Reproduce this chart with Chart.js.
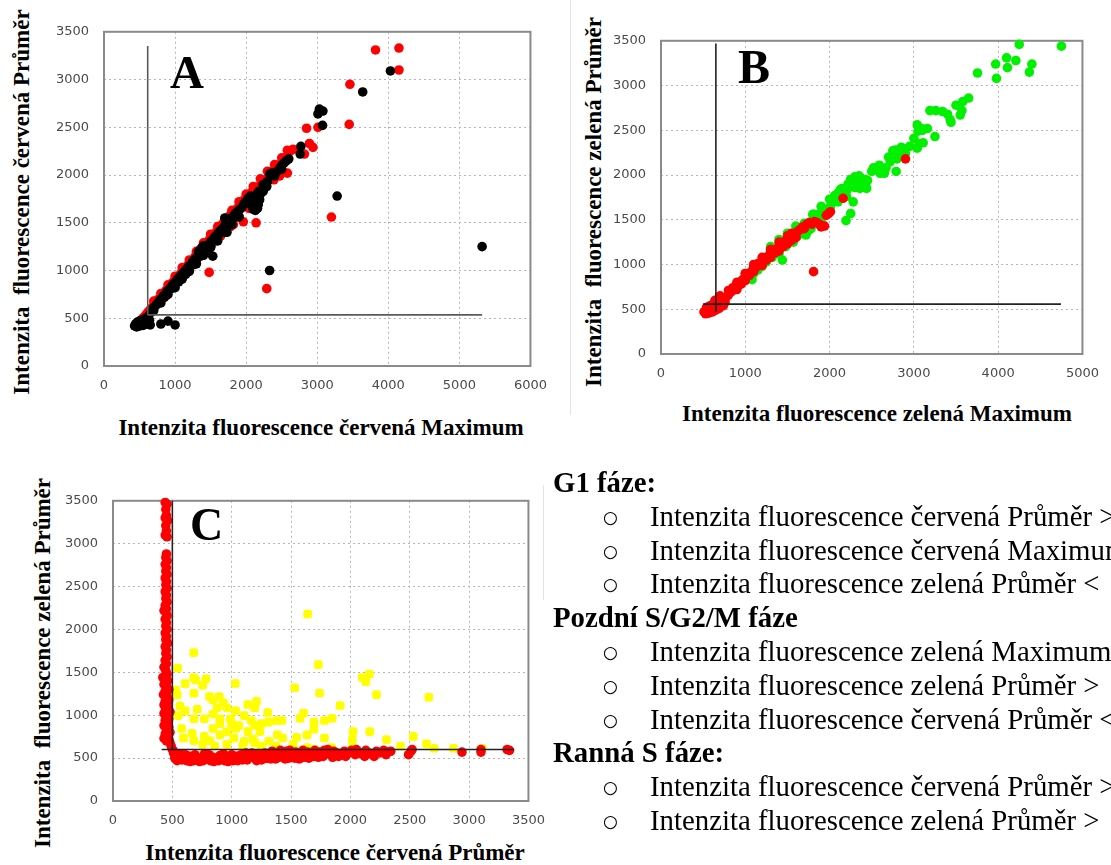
<!DOCTYPE html>
<html>
<head>
<meta charset="utf-8">
<script src="https://cdn.jsdelivr.net/npm/chart.js@4.4.1/dist/chart.umd.min.js"></script>
<style>
  html, body { margin:0; padding:0; background:#fff; }
  body { width:1111px; height:865px; overflow:hidden; position:relative; font-family:"Liberation Serif","Times New Roman",serif; color:#000; }
  canvas { position:absolute; }
  .title { position:absolute; white-space:nowrap; font-weight:bold; font-size:23px; line-height:1; }
  .ytitle { transform:translate(-50%,-50%) rotate(-90deg); }
  .xtitle { transform:translate(-50%,-50%); }
  .letter { position:absolute; font-weight:bold; line-height:1; }
  .rule { position:absolute; width:1px; background:#e4e4e4; }
  #notes { position:absolute; left:553px; top:466px; font-size:28.8px; line-height:33.8px; white-space:nowrap; }
  #notes .h { font-weight:bold; }
  #notes .b { position:relative; padding-left:97px; }
  #notes .b span { position:absolute; left:50px; top:1px; font-family:"DejaVu Sans",sans-serif; font-size:17px; }
</style>
</head>
<body>

<div class="rule" style="left:570px;top:0;height:415px;"></div>
<div class="rule" style="left:543px;top:485px;height:115px;"></div>

<canvas id="chartA" width="505" height="387" style="left:54px;top:9px;"></canvas>
<canvas id="chartB" width="500" height="366" style="left:611px;top:18px;"></canvas>
<canvas id="chartC" width="494" height="353" style="left:63px;top:478px;"></canvas>

<div class="title ytitle" style="left:21px;top:202px;">Intenzita&nbsp; fluorescence červená Průměr</div>
<div class="title xtitle" style="left:321px;top:427px;">Intenzita fluorescence červená Maximum</div>
<div class="title ytitle" style="left:593px;top:202px;">Intenzita&nbsp; fluorescence zelená Průměr</div>
<div class="title xtitle" style="left:877px;top:413px;">Intenzita fluorescence zelená Maximum</div>
<div class="title ytitle" style="left:42px;top:663px;">Intenzita&nbsp; fluorescence zelená Průměr</div>
<div class="title xtitle" style="left:335px;top:852px;">Intenzita fluorescence červená Průměr</div>

<div class="letter" style="left:170px;top:49px;font-size:47px;">A</div>
<div class="letter" style="left:738px;top:43px;font-size:48px;">B</div>
<div class="letter" style="left:190px;top:502px;font-size:46px;">C</div>

<div id="notes">
  <div class="h">G1 fáze:</div>
  <div class="b"><span>○</span>Intenzita fluorescence červená Průměr &gt;</div>
  <div class="b"><span>○</span>Intenzita fluorescence červená Maximum</div>
  <div class="b"><span>○</span>Intenzita fluorescence zelená Průměr &lt;</div>
  <div class="h">Pozdní S/G2/M fáze</div>
  <div class="b"><span>○</span>Intenzita fluorescence zelená Maximum</div>
  <div class="b"><span>○</span>Intenzita fluorescence zelená Průměr &gt;</div>
  <div class="b"><span>○</span>Intenzita fluorescence červená Průměr &lt;</div>
  <div class="h">Ranná S fáze:</div>
  <div class="b"><span>○</span>Intenzita fluorescence červená Průměr &gt;</div>
  <div class="b"><span>○</span>Intenzita fluorescence zelená Průměr &gt;</div>
</div>

<script>
// ---- Panel A: red channel, maximum (x) vs mean (y) ----
const aRed = [
  [460,440],[490,455],[520,480],[545,500],[570,520],[600,545],[625,570],[650,590],[675,610],[700,640],
  [725,660],[750,690],[770,700],[800,720],[820,745],[845,760],[870,790],[890,800],[915,830],[940,850],
  [960,870],[985,890],[1010,905],[1035,930],[1060,950],[1085,975],[1110,990],[1135,1015],[1160,1040],[1185,1060],
  [1210,1075],[1235,1100],[1260,1120],[1285,1150],[1310,1180],[1340,1210],[1365,1230],[1390,1250],[1420,1270],[1450,1290],
  [1480,1320],[1510,1350],[1545,1380],[1575,1400],[1610,1430],[1645,1470],[1680,1500],[1715,1520],[1750,1560],[1785,1590],
  [1820,1610],[1860,1640],[1900,1680],[1935,1700],[1970,1740],[2010,1770],[2050,1800],[2090,1830],[2130,1860],[2175,1880],
  [2220,1910],[2270,1950],[2320,1990],[2370,2040],[2420,2080],[2470,2110],[2520,2150],[2570,2190],[2620,2250],[2660,2270],
  [700,680],[800,760],[900,850],[1000,940],[1100,1030],[1200,1110],[1300,1200],[1400,1290],[1500,1380],[1600,1460],
  [1700,1540],[1800,1630],[1900,1720],[2000,1800],[2100,1880],[2200,1960],[2300,2040],[2400,2110],[2500,2180],[2580,2260],
  [780,660],[880,740],[990,840],[1100,930],[1200,1020],[1300,1100],[1420,1190],[1530,1290],[1640,1360],[1780,1460],
  [1820,1480],[1900,1570],[2040,1650],[2150,1700],[2280,1900],[2390,1950],[2470,1990],[2580,2020],
  [1480,980],[1960,1510],[2140,1500],[2290,810],[2820,2220],[2850,2490],[2890,2330],[2940,2290],[3010,2500],
  [3200,1560],[3450,2530],[3460,2950],[3820,3310],[4150,3330],[4150,3100]
];
const aBlack = [
  [430,420],[445,440],[460,410],[475,430],[490,445],[505,420],[520,435],[535,455],[550,425],[565,445],
  [580,465],[595,440],[610,455],[470,460],[500,470],[540,480],[580,500],[620,520],[650,430],[640,480],
  [660,560],[690,600],[710,620],[735,640],[760,660],[785,690],[810,700],[835,735],[860,750],[885,780],
  [905,790],[930,815],[955,840],[980,860],[1000,870],[1025,900],[1050,920],[1075,940],[1100,960],[1120,980],
  [1145,1000],[1170,1020],[1195,1045],[1220,1060],[1245,1090],[1270,1110],[1295,1130],[1320,1150],[1345,1180],[1370,1200],
  [1395,1220],[1420,1230],[1445,1250],[1470,1270],[1500,1300],[1530,1320],[1555,1350],[1585,1370],[1615,1400],[1640,1420],
  [1670,1440],[1700,1470],[1730,1500],[1760,1520],[1790,1550],[1820,1570],[1850,1600],[1880,1620],[1910,1640],[1940,1660],
  [1970,1700],[2000,1720],
  [700,580],[800,660],[900,750],[1000,820],[1100,910],[1200,990],[1300,1070],[1400,1160],[1500,1240],[1600,1310],
  [1700,1400],[1800,1480],[1900,1560],[2240,1830],[2400,1990],[2500,2060],
  [1400,1260],[1380,1240],[1330,1200],[1360,1150],[1420,1200],[1500,1250],[1250,1060],[1150,960],[1050,880],[950,810],
  [850,720],[1600,1350],[1700,1550],[1730,1400],[1780,1480],[1850,1560],[1530,1150],
  [2030,1760],[2060,1780],[2090,1770],[2120,1750],[2150,1720],[2170,1690],[2160,1650],[2130,1630],[2100,1640],[2080,1680],
  [2050,1700],[2190,1740],[2200,1800],[2180,1830],[2150,1800],
  [2240,1900],[2290,1880],[2300,1930],[2330,2010],[2360,2020],[2400,2020],[2440,2040],[2480,2080],[2510,2110],[2540,2130],
  [2570,2150],[2600,2170],
  [2760,2220],[2770,2300],[3010,2640],[3030,2690],[3080,2670],[3075,2520],[3640,2870],[4030,3090],[3280,1780],[2330,1000],
  [5320,1250],[800,440],[900,470],[1000,430]
];
const aGateV = [[615,535],[615,3350]];
const aGateH = [[615,535],[5320,535]];

// ---- Panel B: green channel, maximum (x) vs mean (y) ----
const bGreen = [
  [1000,900],[1050,860],[1080,830],[1100,900],[1120,950],[1150,940],[1180,1000],[1200,980],[1220,1040],[1250,1030],
  [1260,1080],[1280,1090],[1300,1120],[1320,1080],[1350,1150],[1380,1130],[1380,1180],[1400,1120],[1420,1220],[1440,1050],
  [1460,1250],[1480,1200],[1500,1300],[1520,1270],[1550,1330],[1570,1250],[1600,1380],[1620,1320],[1650,1400],[1680,1350],
  [1700,1420],[1720,1330],[1750,1450],[1780,1400],[1800,1500],[1820,1560],[1850,1530],[1870,1470],[1900,1580],[1920,1600],
  [1950,1560],[1980,1620],[2010,1650],[2040,1700],[2060,1770],[2080,1750],[2100,1800],[2130,1840],[2150,1790],[2180,1850],
  [2200,1820],[2220,1900],[2240,1870],[2260,1950],[2280,1920],[2300,1980],[2320,1900],[2340,1960],[2360,1850],[2380,1960],
  [2400,1930],[2430,1900],[2450,1940],[2250,1570],[2195,1490],[2280,1700],[2300,1860],[2420,1950],[2440,1850],[2500,2040],
  [2520,2080],[2550,2060],[2590,2110],[2600,2020],[2650,2020],[2670,2080],[2700,2200],[2720,2150],[2750,2270],[2780,2280],
  [2790,2040],[2800,2180],[2830,2240],[2850,2310],[2870,2300],[2900,2240],[2950,2320],[3000,2410],[3040,2560],[3050,2490],
  [3060,2350],[3090,2520],[3110,2360],[3040,2300],[3100,2500],[3160,2520],[3190,2720],[3250,2430],[3260,2720],[3340,2710],
  [3400,2680],[3430,2620],[3440,2590],[3500,2780],[3550,2670],[3570,2720],[3580,2820],[3650,2860],[3755,3140],[3970,3240],
  [3980,3080],[4100,3310],[4110,3200],[4210,3280],[4250,3460],[4370,3150],[4400,3240],[4750,3440],
  [1300,1200],[1400,1280],[1500,1350],[1600,1430],[1700,1460],[1800,1560],[1900,1650],[2000,1730],[2000,1600],[2100,1700],
  [1900,1480],[1750,1380],[2150,1850],[2250,1950],[2350,1990],[2200,1760]
];
const bRed = [
  [510,470],[530,450],[550,480],[570,460],[590,500],[610,470],[630,520],[650,490],[670,530],[690,510],
  [700,550],[720,560],[740,540],[760,580],[540,520],[580,540],[620,560],[660,580],[560,460],[600,480],
  [640,600],[700,600],
  [780,640],[800,660],[820,690],[840,700],[860,720],[880,740],[900,760],[920,780],[940,800],[960,820],
  [980,840],[1000,860],[1020,880],[1040,900],[1060,910],[1080,930],[1100,950],[1120,960],[1140,980],[1160,990],
  [1180,1010],[1200,1030],[1220,1050],[1240,1070],[1260,1080],[1280,1100],[1300,1110],[1320,1130],[1340,1150],[1360,1160],
  [1380,1180],[1400,1190],[1420,1200],[1440,1230],[1460,1250],[1480,1260],[1500,1280],[1530,1300],[1560,1330],[1590,1350],
  [1620,1370],[1650,1390],
  [700,650],[800,710],[900,800],[1000,900],[1100,1000],[1200,1080],[1300,1170],[1400,1250],[1500,1320],[1550,1350],
  [900,740],[1000,820],[1100,920],[1200,990],[1300,1080],[1400,1170],[1500,1240],
  [850,740],[950,780],[1050,880],[1150,1010],[1250,1050],[1350,1130],[1450,1200],[1550,1270],[1600,1330],[1100,980],
  [1200,1000],[1300,1150],[1400,1150],[1500,1230],[900,720],[1000,840],[1600,1300],
  [1680,1420],[1700,1400],[1730,1450],[1760,1470],[1790,1450],[1820,1480],[1850,1470],[1880,1450],[1900,1420],[1940,1430],
  [1960,1550],[1990,1570],[2010,1590],[2160,1740],[2900,2180],[1810,920]
];
const bGateV = [[651,470],[651,3470]];
const bGateH = [[500,557],[4745,557]];

// ---- Panel C: red mean (x) vs green mean (y) ----
const cYellow = [
  [1640,2180],[680,1730],[545,1550],[1730,1590],[2100,1440],[2160,1480],[2130,1390],[2220,1240],[2660,1210],[1740,1260],
  [1530,1320],[1030,1370],[680,1440],[696,1412],[784,1424],[608,1368],[528,1293],[540,1237],[681,1256],[755,1349],
  [813,1219],[842,1181],[895,1219],[930,1144],[877,1088],[960,1088],[1136,1126],[1209,1163],[1194,1088],[1914,1114],
  [1605,1025],[1576,965],[1693,920],[1781,939],[1846,965],[1693,839],[1635,771],[1547,742],[1423,939],[1376,939],
  [1303,1032],[1253,902],[1165,939],[1106,995],[1033,1051],[989,958],[901,958],[842,1014],[769,958],[710,1070],
  [681,958],[608,1051],[564,1107],[549,995],[578,846],[593,734],[666,790],[681,704],[769,753],[755,660],
  [842,846],[901,771],[960,809],[1033,846],[1018,734],[1136,809],[1194,883],[1238,809],[1312,920],[1385,771],
  [1429,734],[1312,697],[1194,678],[1106,697],[960,660],[857,641],[813,704],[2022,809],[2163,809],[2016,716],
  [2304,716],[2530,753],[2641,667],[2706,615],[2868,615],[3109,615],[2421,641],[1635,622],[1693,604],[1840,622],
  [1092,641],[1517,660],[1781,734],[1371,641],[2016,622],[1250,640],[1180,720],[1000,900],[900,900],[1060,880]
];
const cRed = [
  [440,3480],[455,3460],[445,3400],[450,3330],[440,3300],[460,3270],[445,3210],[450,3150],[440,3100],[455,3080],
  [450,2880],[445,2840],[455,2800],[440,2760],[450,2720],[445,2680],[455,2640],[440,2600],[450,2560],[445,2520],
  [455,2480],[440,2440],[450,2400],[445,2360],[455,2320],[440,2280],[450,2240],[430,2220],[445,2200],[455,2160],
  [440,2120],[450,2080],[445,2040],[455,2000],[440,1960],[450,1920],[445,1880],[460,1840],[440,1800],[450,1760],
  [445,1720],[455,1680],[440,1640],[450,1600],[430,1560],[445,1520],[455,1480],[420,1440],[440,1420],[460,1400],
  [430,1360],[450,1340],[470,1300],[440,1280],[425,1240],[455,1220],[470,1180],[440,1160],[430,1120],[460,1100],
  [445,1060],[480,1040],[430,1020],[455,990],[470,960],[440,940],[460,900],[430,880],[470,860],[450,820],
  [480,800],[440,780],[460,760],[430,730],[470,720],[450,700],[480,680],[490,640],[500,600],[510,580],
  [510,560],[520,500],[540,470],[560,520],[580,480],[600,500],[620,470],[640,520],[660,490],[680,470],
  [700,510],[720,480],[740,500],[760,470],[780,520],[800,490],[820,470],[840,510],[860,480],[880,500],
  [900,530],[920,490],[940,470],[960,520],[980,500],[1000,540],[1020,490],[1040,520],[1060,500],[1080,540],
  [1100,510],[1120,560],[1140,500],[1160,530],[1180,510],[1200,550],[1220,500],[1240,540],[1260,520],[1280,560],
  [1300,500],[1320,540],[1340,580],[1360,520],[1380,550],[1400,510],[1420,560],[1440,530],[1460,580],[1480,500],
  [1500,550],[1520,530],[1540,570],[1560,520],[1580,560],[1600,590],[1620,540],[1640,570],[1660,520],[1680,560],
  [1700,590],[1720,540],[1740,570],[1760,550],[1780,590],[1800,560],[1830,540],[1860,580],[1890,560],[1920,540],
  [1950,580],[1980,560],[2010,590],[2040,540],[2070,570],[2100,550],[2130,590],[2160,560],[2190,540],[2220,580],
  [2250,560],[2280,590],[2310,570],[2340,580],[2490,540],[2510,580],[2520,600],[2940,570],[3100,570],[3100,600],
  [3320,600],[3340,590],
  [530,530],[570,550],[610,540],[650,460],[690,540],[730,460],[770,550],[810,540],[850,460],[890,470],
  [930,550],[970,460],[1010,470],[1050,470],[1090,480],[1130,480],[1170,560],[1210,470],[1250,480],[1290,500],
  [1330,490],[1370,490],[1410,590],[1450,490],[1490,590],[1530,500],[1570,490],[1610,510],[1650,500],[1690,520],
  [1730,510],[1770,520],[1810,600],[1850,510],[1900,520],[1960,520],[2050,600],[2120,520],[2200,520],[2300,540]
];
const cGateV = [[500,600],[500,3500]];
const cGateH = [[410,600],[3380,600]];

// ---- drawing ----
Chart.defaults.font.family = '"DejaVu Sans", sans-serif';

const toXY = pts => pts.map(p => ({ x: p[0], y: p[1] }));

function dots(pts, color, order, style, radius) {
  return { data: toXY(pts), backgroundColor: color, borderWidth: 0, pointRadius: radius,
           pointStyle: style, order: order, clip: false };
}
function gate(pts, color) {
  return { data: toXY(pts), showLine: true, borderColor: color, borderWidth: 1.6,
           pointRadius: 0, order: 0, clip: false };
}

// grey box around each plotting area
const frame = {
  id: 'frame',
  beforeDatasetsDraw(chart) {
    const { ctx, chartArea: a } = chart;
    ctx.save();
    ctx.strokeStyle = '#8a8a8a';
    ctx.lineWidth = 2;
    ctx.strokeRect(a.left, a.top, a.right - a.left, a.bottom - a.top);
    ctx.restore();
  }
};

function panel(id, xMax, xStep, rightPad, datasets) {
  const axisCommon = {
    type: 'linear',
    grid: { color: '#b5b5b5', lineWidth: 1, drawTicks: false },
    border: { display: false, dash: [2, 3] }
  };
  new Chart(document.getElementById(id), {
    type: 'scatter',
    data: { datasets },
    options: {
      responsive: false, animation: false, events: [],
      layout: { padding: { left: 0, top: 12, right: rightPad, bottom: 0 } },
      plugins: { legend: { display: false }, tooltip: { enabled: false } },
      scales: {
        x: Object.assign({}, axisCommon, {
          min: 0, max: xMax,
          ticks: { stepSize: xStep, padding: 12, color: '#4a4a4a', font: { size: 13 },
                   maxRotation: 0, autoSkip: false, callback: v => String(v) },
          afterFit(s) { s.height = 30; }
        }),
        y: Object.assign({}, axisCommon, {
          min: 0, max: 3500,
          ticks: { stepSize: 500, padding: 15, color: '#4a4a4a', font: { size: 13 },
                   callback: v => String(v) },
          afterFit(s) { s.width = 50; }
        })
      }
    },
    plugins: [frame]
  });
}

panel('chartA', 6000, 1000, 22, [
  gate(aGateV, '#5a5a5a'), gate(aGateH, '#5a5a5a'),
  dots(aBlack, '#000000', 1, 'circle', 4.8),
  dots(aRed, '#ff0000', 2, 'circle', 4.8)
]);
panel('chartB', 5000, 1000, 20, [
  gate(bGateV, '#222222'), gate(bGateH, '#222222'),
  dots(bRed, '#ff0000', 1, 'circle', 4.8),
  dots(bGreen, '#00f000', 2, 'circle', 4.8)
]);
panel('chartC', 3500, 500, 20, [
  gate(cGateV, '#222222'), gate(cGateH, '#222222'),
  dots(cRed, '#ff0000', 1, 'circle', 4.8),
  dots(cYellow, '#ffff00', 2, 'rectRounded', 5)
]);
</script>
</body>
</html>
